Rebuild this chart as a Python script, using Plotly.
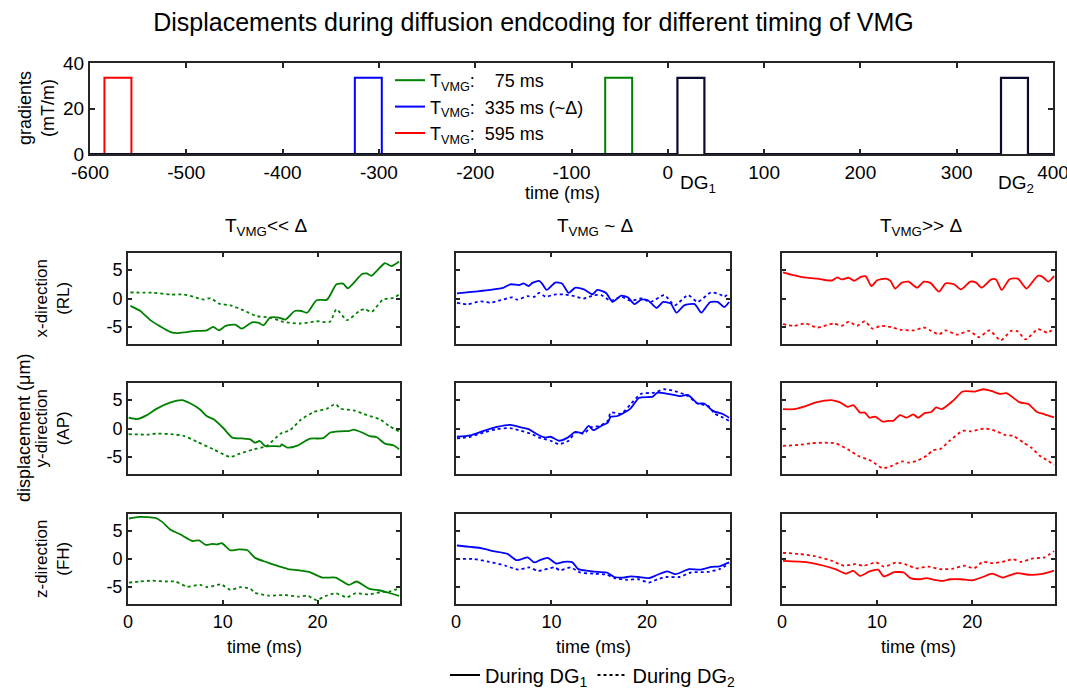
import plotly.graph_objects as go

# ---------------- data ----------------
# gradient timing (ms) and amplitude (mT/m)
vmg_labels = ["T<sub>VMG</sub>:\u00a0\u00a0\u00a0\u00a075 ms",
              "T<sub>VMG</sub>:\u00a0\u00a0335 ms (~Δ)",
              "T<sub>VMG</sub>:\u00a0\u00a0595 ms"]
vmg_start = [-65, -325, -585]
dg_start = [10, 346]
pulse_dur = 28
pulse_amp = 33.5
time_range = [-600, 400]

# --- T_VMG << Δ (green) ---
t_gx1 = [0.25, 1.3, 2.35, 3.4, 4.5, 5.2, 6.2, 7.3, 8.3, 9.0, 9.6, 10.3, 11.3, 12.0, 13.1, 13.8, 14.3, 15.0, 15.9, 16.6, 17.6, 18.3, 18.9, 19.9, 21.0, 22.0, 22.7, 23.2, 24.7, 25.2, 25.7, 27.1, 27.8, 28.6]
v_gx1 = [-1.3, -2.2, -3.8, -4.9, -5.9, -6.1, -5.9, -5.7, -5.6, -5.0, -5.6, -4.8, -4.6, -5.3, -4.2, -4.3, -4.7, -3.35, -3.35, -3.7, -2.2, -2.2, -2.5, -0.3, -0.2, 2.5, 2.6, 1.8, 4.3, 4.4, 4.0, 6.2, 5.7, 6.5]
t_gx2 = [0.25, 2.7, 4.5, 5.9, 6.9, 8.0, 8.7, 9.6, 10.8, 12.2, 13.6, 15.0, 16.4, 18.2, 19.9, 21.3, 22.0, 23.1, 24.5, 25.0, 25.7, 26.9, 28.0, 28.6]
v_gx2 = [1.06, 1.0, 0.7, 0.7, 0.3, -0.2, 0.06, -0.9, -1.2, -2.1, -3.1, -3.35, -4.1, -4.4, -4.0, -4.1, -1.9, -3.8, -2.1, -1.9, -2.35, -0.2, 0.1, 0.7]
t_gy1 = [0.07, 0.95, 2.0, 3.05, 4.5, 5.7, 6.6, 7.6, 8.3, 9.0, 10.1, 11.0, 12.0, 12.9, 13.4, 13.9, 14.5, 15.4, 16.1, 16.2, 16.8, 17.8, 19.2, 20.6, 21.3, 22.4, 23.4, 23.8, 24.7, 25.5, 26.2, 27.1, 28.0, 28.6]
v_gy1 = [1.9, 1.65, 2.35, 3.5, 4.6, 5.0, 4.4, 3.35, 2.2, 1.65, 0.0, -1.6, -1.75, -1.9, -2.5, -2.2, -3.1, -3.1, -3.1, -2.8, -3.35, -3.05, -1.8, -1.7, -0.75, -0.5, -0.4, -0.2, -0.7, -1.35, -1.5, -2.65, -2.95, -3.65]
t_gy2 = [0.07, 2.0, 3.05, 4.5, 5.9, 7.3, 9.0, 10.8, 11.8, 13.2, 14.6, 16.1, 17.1, 18.2, 19.6, 21.0, 21.9, 22.4, 23.8, 25.2, 26.6, 27.6, 28.6]
v_gy2 = [-1.0, -1.06, -0.9, -1.0, -1.3, -2.35, -3.65, -5.0, -4.4, -3.7, -3.1, -0.9, -0.3, 1.5, 2.9, 3.5, 4.3, 3.5, 3.2, 2.35, 1.6, 0.4, -0.5]
t_gz1 = [0.1, 1.2, 2.9, 3.6, 4.5, 5.5, 6.8, 7.5, 8.2, 8.9, 9.4, 9.9, 10.8, 11.7, 12.6, 13.4, 14.7, 15.9, 16.9, 18.0, 19.1, 20.5, 21.9, 23.3, 24.1, 25.5, 26.6, 27.5, 28.6]
v_gz1 = [7.2, 7.5, 7.3, 6.6, 5.2, 4.4, 3.2, 3.3, 2.5, 2.7, 2.6, 2.8, 1.55, 1.7, 1.55, 0.2, -0.6, -1.3, -1.8, -2.0, -2.3, -3.3, -3.3, -4.6, -4.0, -5.3, -5.6, -6.0, -6.55]
t_gz2 = [0.1, 1.2, 2.6, 4.0, 5.0, 6.2, 7.6, 8.4, 9.8, 10.8, 11.9, 12.9, 13.4, 14.8, 16.6, 18.0, 18.9, 19.9, 20.8, 21.9, 23.1, 24.0, 25.4, 26.6, 27.7, 28.6]
v_gz2 = [-4.2, -4.0, -3.85, -4.0, -4.0, -4.9, -4.6, -5.0, -4.5, -5.5, -5.0, -5.3, -6.0, -6.5, -6.4, -6.7, -6.5, -7.3, -6.6, -6.1, -6.8, -6.1, -6.3, -5.9, -5.75, -5.2]

# --- T_VMG ~ Δ (blue) ---
t_bx1 = [0.1, 1.9, 3.6, 5.0, 5.7, 6.6, 7.1, 7.6, 8.0, 8.7, 9.0, 9.5, 10.4, 11.1, 11.8, 12.5, 13.4, 14.3, 14.8, 15.7, 16.4, 17.3, 18.0, 18.7, 19.4, 20.1, 21.0, 21.7, 22.5, 23.1, 23.9, 25.0, 25.7, 26.6, 27.4, 28.1, 28.6]
v_bx1 = [0.9, 1.2, 1.5, 1.9, 2.5, 2.35, 2.65, 2.2, 2.75, 3.1, 2.65, 1.5, 2.8, 2.65, 1.0, 1.9, 1.6, 0.75, 1.5, 1.0, -0.6, 0.5, 0.2, -1.0, -0.2, -0.3, -1.65, -0.6, -0.9, -2.5, -1.2, -1.0, -2.5, -0.65, -0.6, -1.5, -0.6]
t_bx2 = [0.1, 1.2, 2.6, 3.6, 4.7, 5.9, 6.4, 7.5, 8.2, 8.7, 9.4, 10.3, 11.3, 12.4, 13.4, 14.5, 15.2, 16.2, 17.3, 18.3, 19.4, 20.4, 21.8, 22.9, 24.3, 25.3, 26.7, 27.6, 28.1, 28.6]
v_bx2 = [-0.75, -1.0, -0.5, -0.75, -0.3, 0.2, -0.2, 0.4, 0.3, 1.0, 0.3, 0.7, 0.7, 0.4, 0.0, 0.6, 0.6, -0.4, 0.3, -0.4, 0.0, -0.6, 0.6, -1.2, 0.6, -0.6, 1.06, 0.75, 0.3, 1.0]
t_by1 = [0.1, 1.5, 2.9, 4.3, 5.7, 6.8, 7.6, 8.5, 9.4, 9.9, 10.8, 11.7, 12.5, 13.2, 13.9, 14.4, 15.2, 15.9, 16.2, 16.9, 18.2, 19.2, 20.6, 21.1, 22.2, 23.4, 24.3, 25.3, 26.0, 26.9, 28.0, 28.6]
v_by1 = [-1.45, -1.2, -0.4, 0.3, 0.65, 0.2, -0.1, -1.0, -1.6, -1.45, -2.15, -1.6, -0.6, -0.8, 0.45, -0.3, 0.45, 1.05, 2.05, 2.2, 3.4, 5.4, 5.6, 6.3, 6.1, 5.7, 5.9, 4.4, 4.4, 3.1, 2.5, 1.9]
t_by2 = [0.1, 1.5, 2.9, 4.3, 5.7, 6.8, 7.8, 8.9, 9.9, 10.8, 11.8, 12.5, 13.4, 14.1, 15.0, 15.9, 16.2, 17.3, 18.3, 19.4, 20.8, 21.8, 22.9, 24.3, 25.3, 26.4, 27.1, 28.0, 28.6]
v_by2 = [-1.75, -1.45, -0.7, -0.1, 0.06, -0.4, -0.9, -1.7, -2.15, -2.75, -2.15, -0.7, -0.9, 0.2, 0.45, 1.35, 2.8, 2.6, 4.3, 6.1, 6.3, 6.9, 6.6, 5.7, 4.4, 4.0, 2.6, 1.9, 1.35]
t_bz1 = [0.1, 2.7, 3.9, 5.4, 6.3, 6.9, 7.5, 8.2, 8.8, 9.6, 10.5, 11.3, 12.2, 12.8, 13.9, 14.9, 15.8, 16.6, 17.5, 18.3, 19.1, 20.2, 21.1, 22.1, 23.0, 24.4, 25.5, 26.8, 27.6, 28.6]
v_bz1 = [2.4, 1.9, 1.4, 0.9, -0.2, 0.0, 0.3, -0.6, -0.2, 0.2, -0.8, -0.5, -0.6, -1.8, -2.1, -2.3, -2.4, -3.2, -3.3, -3.1, -3.2, -3.4, -2.8, -2.2, -2.7, -1.8, -1.9, -1.4, -1.3, -0.6]
t_bz2 = [0.1, 1.8, 3.5, 5.2, 6.5, 7.7, 8.6, 10.3, 10.9, 12.0, 13.0, 14.5, 15.8, 16.6, 17.9, 19.1, 20.2, 21.1, 22.1, 23.4, 24.6, 26.3, 27.6, 28.6]
v_bz2 = [0.0, 0.0, -0.5, -1.2, -1.9, -1.5, -2.1, -1.5, -2.0, -1.5, -2.4, -2.6, -2.8, -3.4, -3.7, -3.6, -4.2, -3.6, -3.2, -3.2, -2.4, -2.3, -1.8, -0.8]

# --- T_VMG >> Δ (red) ---
t_rx1 = [0.1, 1.2, 2.3, 3.7, 4.7, 5.3, 5.8, 6.3, 7.0, 7.6, 8.3, 8.8, 9.4, 10.0, 10.9, 11.4, 11.9, 12.6, 13.3, 14.2, 14.9, 15.6, 16.5, 17.2, 18.1, 18.8, 19.8, 20.4, 21.0, 22.0, 22.5, 23.1, 23.9, 24.8, 25.7, 26.9, 27.4, 28.0, 28.6]
v_rx1 = [4.6, 4.1, 3.7, 3.5, 3.2, 3.2, 3.7, 3.35, 3.65, 3.1, 3.8, 3.9, 2.2, 3.2, 3.5, 3.1, 1.75, 2.8, 2.95, 1.9, 2.95, 2.75, 1.2, 2.65, 2.5, 1.6, 2.95, 2.8, 1.9, 3.35, 3.35, 1.5, 3.35, 3.5, 1.75, 4.0, 3.8, 2.95, 3.95]
t_rx2 = [0.1, 1.2, 2.5, 3.7, 5.4, 6.3, 7.0, 7.9, 8.7, 9.5, 10.4, 11.4, 12.5, 13.9, 14.9, 15.6, 16.5, 17.2, 18.4, 19.7, 20.7, 21.8, 23.0, 24.1, 24.8, 25.6, 26.9, 27.9, 28.6]
v_rx2 = [-4.5, -4.8, -4.4, -5.1, -4.4, -4.8, -4.1, -4.8, -4.0, -5.3, -4.8, -5.0, -5.5, -5.6, -5.1, -5.6, -6.3, -5.6, -6.35, -5.7, -6.8, -5.6, -7.35, -5.7, -5.8, -7.2, -5.4, -6.0, -5.3]
t_ry1 = [0.1, 1.3, 2.4, 3.6, 5.2, 6.1, 6.9, 7.5, 8.2, 8.7, 9.2, 9.8, 10.6, 11.2, 11.7, 12.4, 13.1, 13.8, 14.3, 15.0, 15.7, 16.2, 16.8, 18.0, 19.0, 20.3, 21.2, 22.0, 22.9, 23.6, 25.0, 25.9, 26.8, 27.6, 28.6]
v_ry1 = [3.4, 3.4, 3.9, 4.6, 5.0, 4.6, 3.8, 4.1, 2.8, 2.8, 1.9, 2.1, 1.2, 1.35, 1.35, 2.35, 1.9, 2.5, 1.9, 2.7, 2.9, 3.7, 3.4, 4.9, 6.5, 6.5, 6.9, 6.6, 6.1, 6.2, 4.6, 4.3, 2.9, 2.5, 1.95]
t_ry2 = [0.1, 1.7, 3.1, 4.5, 5.7, 6.9, 8.0, 9.4, 10.6, 11.5, 12.6, 13.4, 14.3, 15.2, 15.9, 16.6, 17.6, 19.0, 19.9, 21.3, 22.4, 23.4, 24.3, 25.4, 26.2, 27.1, 28.0, 28.6]
v_ry2 = [-3.05, -2.9, -2.6, -2.5, -2.65, -3.65, -4.8, -5.7, -7.0, -6.6, -5.8, -6.0, -5.6, -4.8, -3.8, -3.65, -2.2, -0.4, -0.5, 0.0, -0.4, -1.1, -1.3, -2.5, -3.35, -4.8, -5.7, -6.4]
t_rz1 = [0.1, 2.7, 4.4, 5.6, 6.7, 7.5, 8.2, 9.2, 10.1, 10.7, 11.8, 12.8, 13.5, 14.5, 15.2, 16.0, 16.8, 17.7, 18.8, 20.0, 21.1, 22.1, 23.2, 24.7, 25.9, 27.2, 28.6]
v_rz1 = [-0.35, -0.6, -1.2, -1.8, -2.6, -2.1, -3.0, -2.2, -1.9, -3.1, -2.35, -2.4, -3.4, -3.6, -3.4, -3.7, -3.9, -3.6, -3.6, -3.8, -3.2, -2.6, -3.3, -2.5, -2.8, -2.7, -2.05]
t_rz2 = [0.1, 1.8, 3.5, 5.2, 6.5, 7.7, 8.6, 9.9, 10.7, 12.0, 13.0, 14.1, 15.4, 16.6, 17.9, 19.2, 20.2, 21.1, 22.1, 23.2, 24.3, 25.1, 26.4, 27.6, 28.6]
v_rz2 = [1.1, 0.9, 0.5, -0.3, -1.2, -0.9, -1.2, -0.6, -1.35, -0.65, -0.95, -1.65, -1.35, -1.8, -1.75, -1.2, -1.65, -0.5, -0.75, -0.5, -0.06, -0.5, 0.1, 0.3, 1.4]

col_titles = ["T<sub>VMG</sub>&lt;&lt; Δ", "T<sub>VMG</sub> ~ Δ", "T<sub>VMG</sub>&gt;&gt; Δ"]
row_titles = ["x-direction<br>(RL)", "y-direction<br>(AP)", "z-direction<br>(FH)"]
sub_xticks = [0, 10, 20]
sub_xticktext = ["0", "10", "20"]
sub_yticks = [-5, 0, 5]
sub_yticktext = ["-5", "0", "5"]
top_xticks = [-600, -500, -400, -300, -200, -100, 0, 100, 200, 300, 400]
top_xticktext = ["-600", "-500", "-400", "-300", "-200", "-100", "0", "100", "200", "300", "400"]
top_yticks = [0, 20, 40]
top_yticktext = ["0", "20", "40"]

# ---------------- layout helpers ----------------
W, H = 1067, 691
FONT = "Liberation Sans, Arial, sans-serif"
AX = "#262626"
colors = ["#008000", "#0000ff", "#ff0000"]


def xd(a, b):
    return [a / W, b / W]


def yd(top, bot):
    return [1 - bot / H, 1 - top / H]


col_px = [(128, 400), (456, 730), (782, 1055)]
row_px = [(253, 344), (383, 474), (514, 604)]

fig = go.Figure()

# ---------------- top panel ----------------
for lab, st, c in zip(vmg_labels, vmg_start, colors):
    fig.add_trace(go.Scatter(
        x=[st, st, st + pulse_dur, st + pulse_dur],
        y=[0, pulse_amp, pulse_amp, 0],
        mode="lines", line=dict(color=c, width=2), name=lab,
        legend="legend", xaxis="x", yaxis="y"))

dgx = [time_range[0]]
dgy = [0]
for st in dg_start:
    dgx += [st, st, st + pulse_dur, st + pulse_dur]
    dgy += [0, pulse_amp, pulse_amp, 0]
dgx.append(time_range[1])
dgy.append(0)
fig.add_trace(go.Scatter(x=dgx, y=dgy, mode="lines",
                         line=dict(color="#0a0a30", width=2.2),
                         showlegend=False, xaxis="x", yaxis="y"))

# ---------------- displacement panels ----------------
curves = [
    [(t_gx1, v_gx1, t_gx2, v_gx2), (t_bx1, v_bx1, t_bx2, v_bx2), (t_rx1, v_rx1, t_rx2, v_rx2)],
    [(t_gy1, v_gy1, t_gy2, v_gy2), (t_by1, v_by1, t_by2, v_by2), (t_ry1, v_ry1, t_ry2, v_ry2)],
    [(t_gz1, v_gz1, t_gz2, v_gz2), (t_bz1, v_bz1, t_bz2, v_bz2), (t_rz1, v_rz1, t_rz2, v_rz2)],
]

axis_common = dict(showline=True, linewidth=2, linecolor=AX, mirror="ticks",
                   ticks="inside", tickwidth=1.6, tickcolor=AX, showgrid=False,
                   zeroline=False, automargin=False,
                   tickfont=dict(family=FONT, size=18, color="#000000"))

layout = {}
layout["xaxis"] = dict(axis_common, domain=xd(90, 1053), range=time_range,
                       tickvals=top_xticks, ticktext=top_xticktext, ticklen=5, anchor="y",
                       ticklabeloverflow="allow")
layout["yaxis"] = dict(axis_common, domain=yd(63, 154), range=[0, 40],
                       tickvals=top_yticks, ticktext=top_yticktext, ticklen=5, anchor="x")
layout["xaxis"]["tickfont"] = dict(family=FONT, size=19, color="#000000")
layout["yaxis"]["tickfont"] = dict(family=FONT, size=19, color="#000000")

for r in range(3):
    for c in range(3):
        k = 2 + r * 3 + c
        xa, ya = f"x{k}", f"y{k}"
        t1, v1, t2, v2 = curves[r][c]
        fig.add_trace(go.Scatter(x=t1, y=v1, mode="lines", line=dict(color=colors[c], width=1.8, shape="spline", smoothing=0.6),
                                 showlegend=False, xaxis=xa, yaxis=ya))
        fig.add_trace(go.Scatter(x=t2, y=v2, mode="lines", line=dict(color=colors[c], width=1.8, dash="dot", shape="spline", smoothing=0.6),
                                 showlegend=False, xaxis=xa, yaxis=ya))
        layout[f"xaxis{k}"] = dict(axis_common, domain=xd(*col_px[c]), range=[0, 28.7],
                                   tickvals=sub_xticks, ticktext=sub_xticktext, ticklen=4, anchor=ya,
                                   showticklabels=(r == 2))
        layout[f"yaxis{k}"] = dict(axis_common, domain=yd(*row_px[r]), range=[-8, 8],
                                   tickvals=sub_yticks, ticktext=sub_yticktext, ticklen=4, anchor=xa,
                                   showticklabels=(c == 0))

# style legend dummies
fig.add_trace(go.Scatter(x=[None], y=[None], mode="lines", line=dict(color="#000000", width=2),
                         name="During DG<sub>1</sub>", legend="legend2", xaxis="x", yaxis="y"))
fig.add_trace(go.Scatter(x=[None], y=[None], mode="lines", line=dict(color="#000000", width=2, dash="dot"),
                         name="During DG<sub>2</sub>", legend="legend2", xaxis="x", yaxis="y"))

annotations = []


def ann(text, x, y, size=18, angle=0, xanchor="center", yanchor="middle"):
    annotations.append(dict(text=text, x=x / W, y=1 - y / H, xref="paper", yref="paper",
                            showarrow=False, textangle=angle, xanchor=xanchor, yanchor=yanchor,
                            font=dict(family=FONT, size=size, color="#000000")))


ann("gradients<br>(mT/m)", 36, 108, size=18, angle=-90)
ann("time (ms)", 562, 193, size=18)
ann("DG<sub>1</sub>", 698, 184, size=19)
ann("DG<sub>2</sub>", 1016, 184, size=19)
for c, title in enumerate(col_titles):
    ann(title, (col_px[c][0] + col_px[c][1]) / 2 + 2, 227, size=19)
    ann("time (ms)", (col_px[c][0] + col_px[c][1]) / 2, 647, size=18)
for r, title in enumerate(row_titles):
    ann(title, 52, (row_px[r][0] + row_px[r][1]) / 2, size=17, angle=-90)
ann("displacement (μm)", 24, 428, size=18, angle=-90)

fig.update_layout(
    width=W, height=H, margin=dict(l=0, r=0, t=0, b=0, autoexpand=False),
    paper_bgcolor="white", plot_bgcolor="white",
    title=dict(text="Displacements during diffusion endcoding for different timing of VMG",
               x=0.5, xanchor="center", y=1 - 22 / H, yanchor="middle",
               font=dict(family=FONT, size=25, color="#000000")),
    legend=dict(x=390 / W, y=1 - 62 / H, xanchor="left", yanchor="top",
                bgcolor="rgba(0,0,0,0)", font=dict(family=FONT, size=18, color="#000000"),
                itemwidth=30, tracegroupgap=0),
    legend2=dict(orientation="h", x=0.5 * (447 + 738) / W, y=1 - 675 / H,
                 xanchor="center", yanchor="middle", bgcolor="rgba(0,0,0,0)",
                 font=dict(family=FONT, size=20, color="#000000"), itemwidth=30),
    annotations=annotations,
    showlegend=True,
    **layout,
)

fig.write_html("out.html", config={"displayModeBar": False},
               post_script="document.body.style.margin='0';")
